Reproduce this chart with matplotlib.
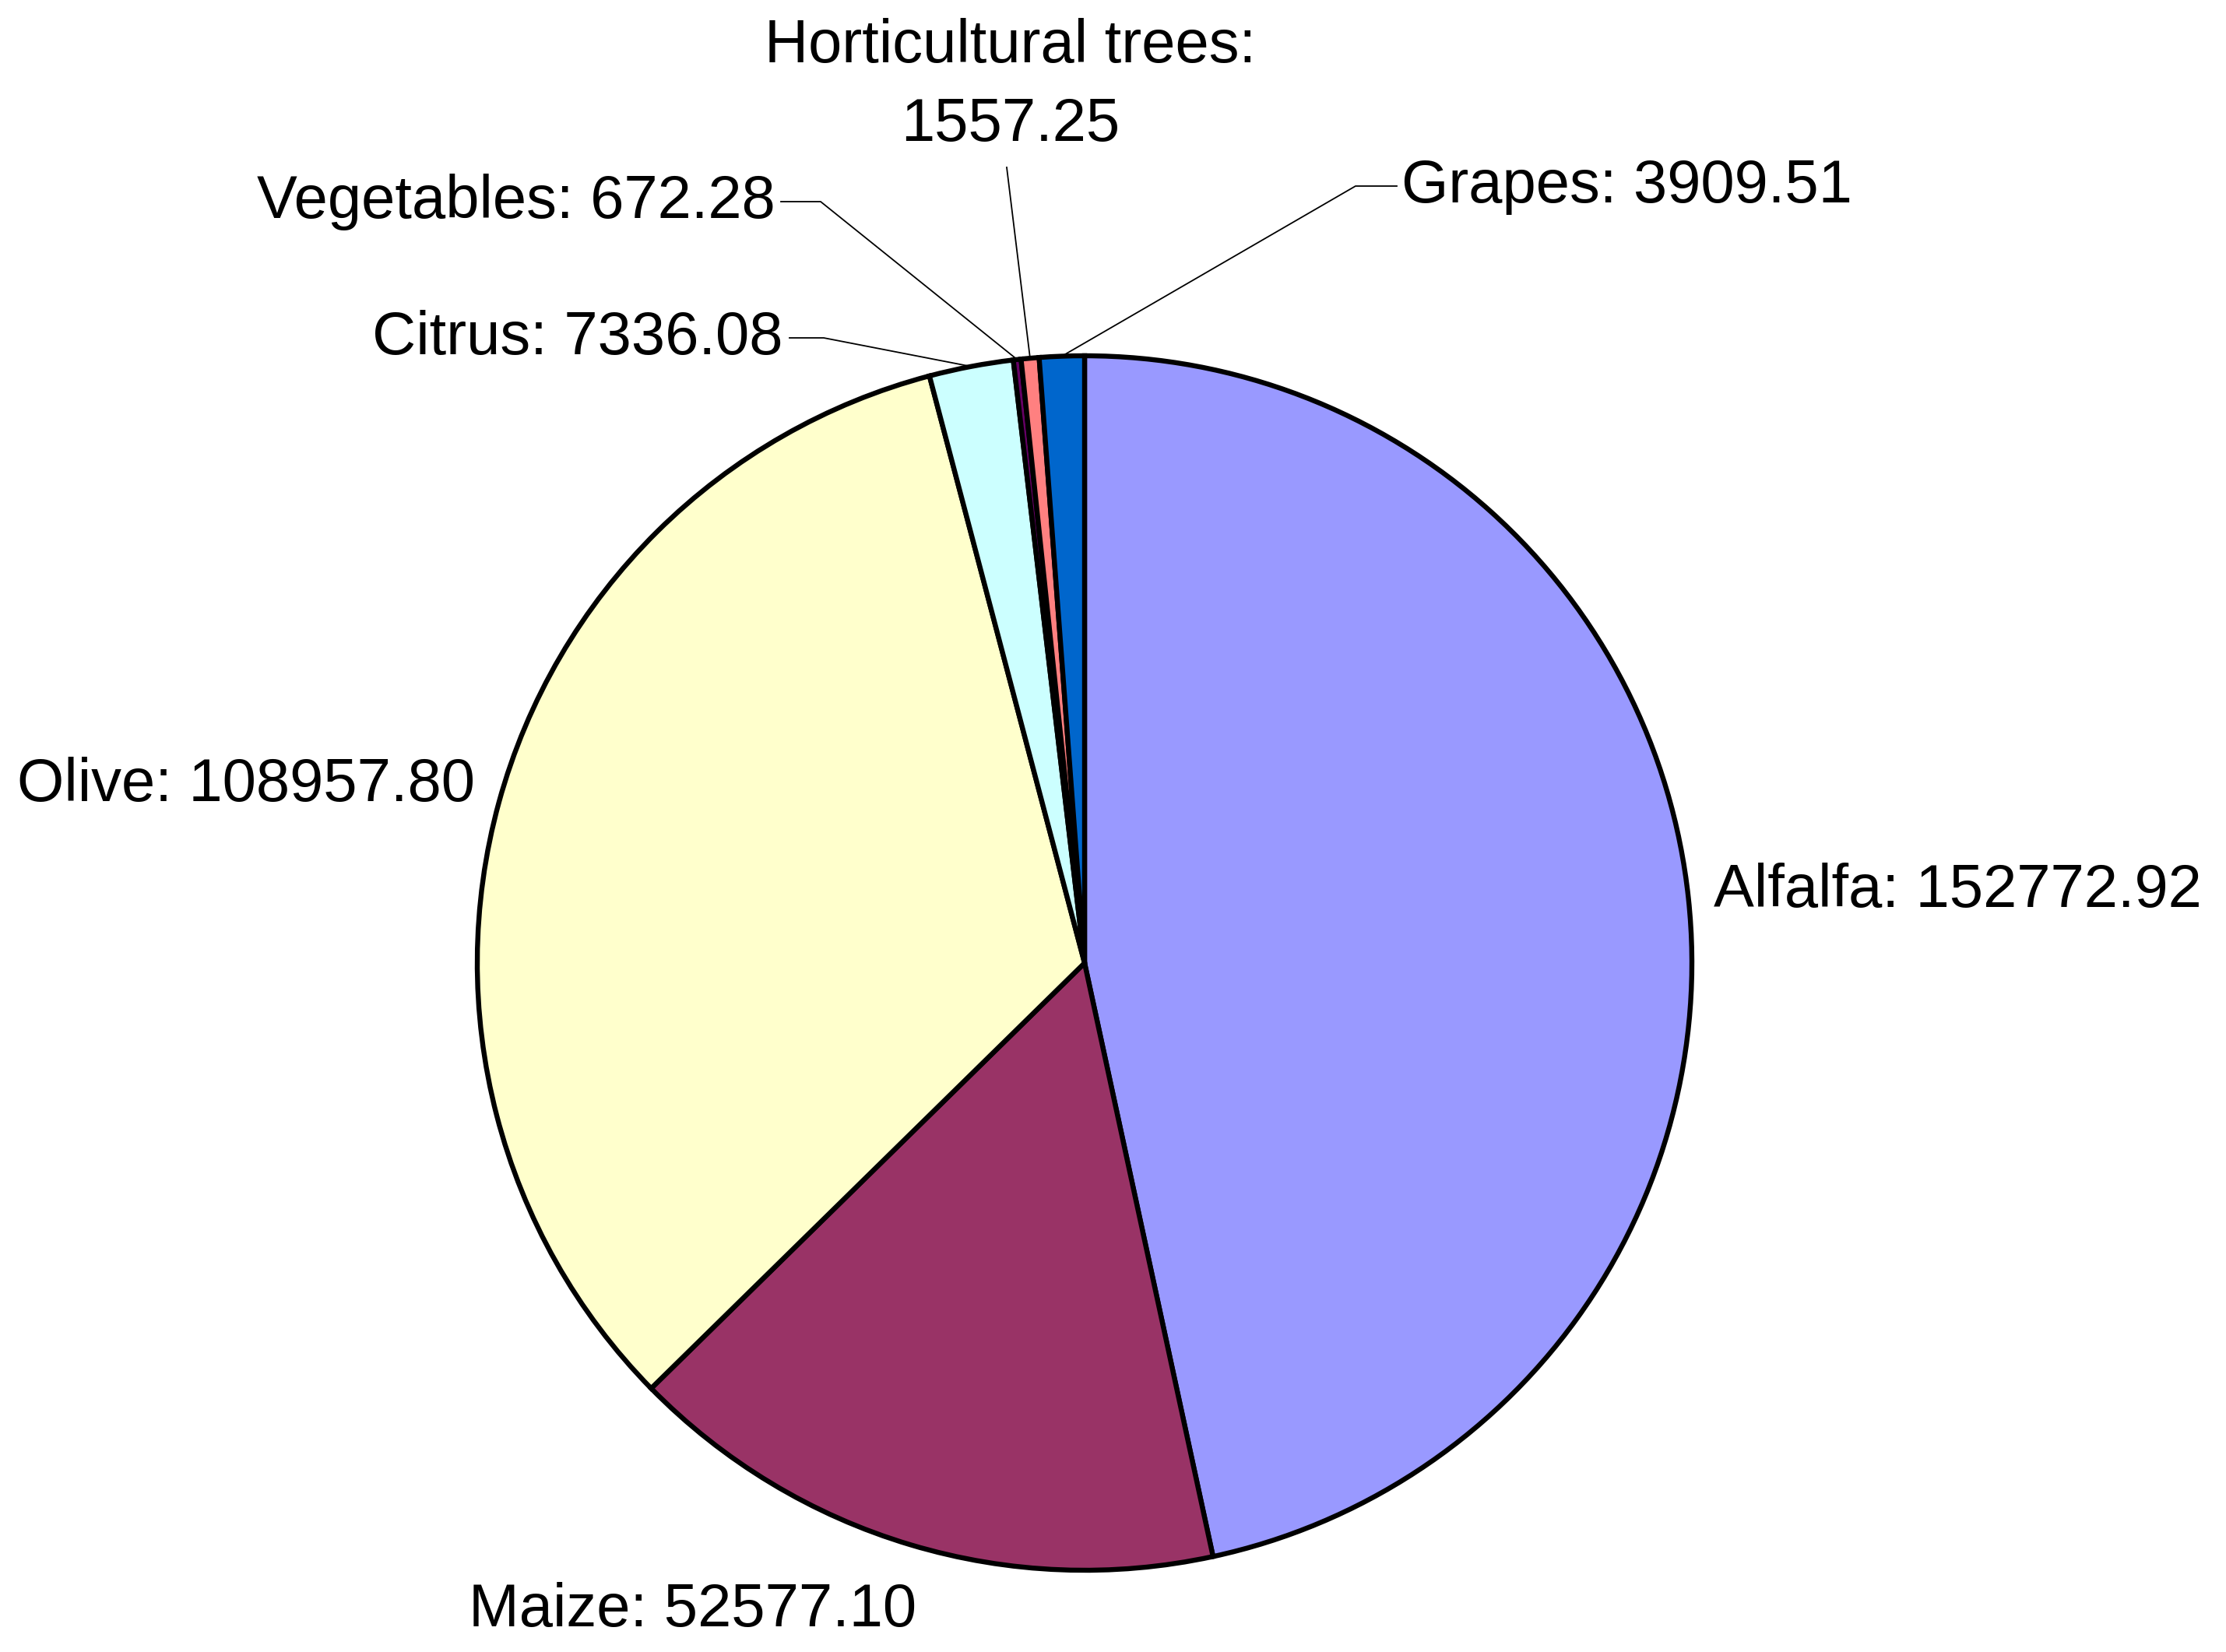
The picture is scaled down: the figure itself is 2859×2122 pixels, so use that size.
import matplotlib
matplotlib.use("Agg")
import matplotlib.pyplot as plt
import numpy as np

# crop areas, clockwise from 12 o'clock
crops = ['Alfalfa', 'Maize', 'Olive', 'Citrus', 'Vegetables',
         'Horticultural trees', 'Grapes']
areas = [152772.92, 52577.10, 108957.80, 7336.08, 672.28, 1557.25, 3909.51]
colors = ['#9999FF', '#993366', '#FFFFCC', '#CCFFFF', '#660066',
          '#FF8080', '#0066CC']

plt.rcParams['font.family'] = ['Liberation Sans', 'DejaVu Sans']

W, H = 2859, 2122
fig = plt.figure(figsize=(W / 100, H / 100), dpi=100)
ax = fig.add_axes([0, 0, 1, 1])

cx, cy, r = 1393, 885, 780
wedges, _ = ax.pie(areas, colors=colors, startangle=90, counterclock=False,
                   radius=r, center=(cx, cy),
                   wedgeprops=dict(edgecolor='black', linewidth=4.6))
ax.set_xlim(0, W)
ax.set_ylim(0, H)
ax.set_aspect('equal')
ax.set_axis_off()

fs = 56


def label(i):
    return f'{crops[i]}: {areas[i]:.2f}'


def arc_point(i):
    w = wedges[i]
    ang = np.deg2rad((w.theta1 + w.theta2) / 2)
    return cx + r * np.cos(ang), cy + r * np.sin(ang)


# big slices, no leader lines
ax.text(2201, 977, label(0), fontsize=fs, ha='left', va='center')
ax.text(602, 53, label(1), fontsize=fs, ha='left', va='center')
ax.text(22, 1114, label(2), fontsize=fs, ha='left', va='center')

# small slices with leader lines
ax.text(1006, 1688, label(3), fontsize=fs, ha='right', va='center')
px, py = arc_point(3)
ax.plot([1014, 1058, px], [1688, 1688, py], color='black', lw=1.3)

ax.text(996, 1863, label(4), fontsize=fs, ha='right', va='center')
px, py = arc_point(4)
ax.plot([1003, 1054, px], [1863, 1863, py], color='black', lw=1.3)

ax.text(1298, 2012, f'{crops[5]}:\n{areas[5]:.2f}', fontsize=fs,
        ha='center', va='center', linespacing=1.5)
px, py = arc_point(5)
ax.plot([1293, px], [1907, py], color='black', lw=1.3)

ax.text(1800, 1883, label(6), fontsize=fs, ha='left', va='center')
px, py = arc_point(6)
ax.plot([1794, 1741, px], [1883, 1883, py], color='black', lw=1.3)

fig.savefig('out.png', dpi=100)
